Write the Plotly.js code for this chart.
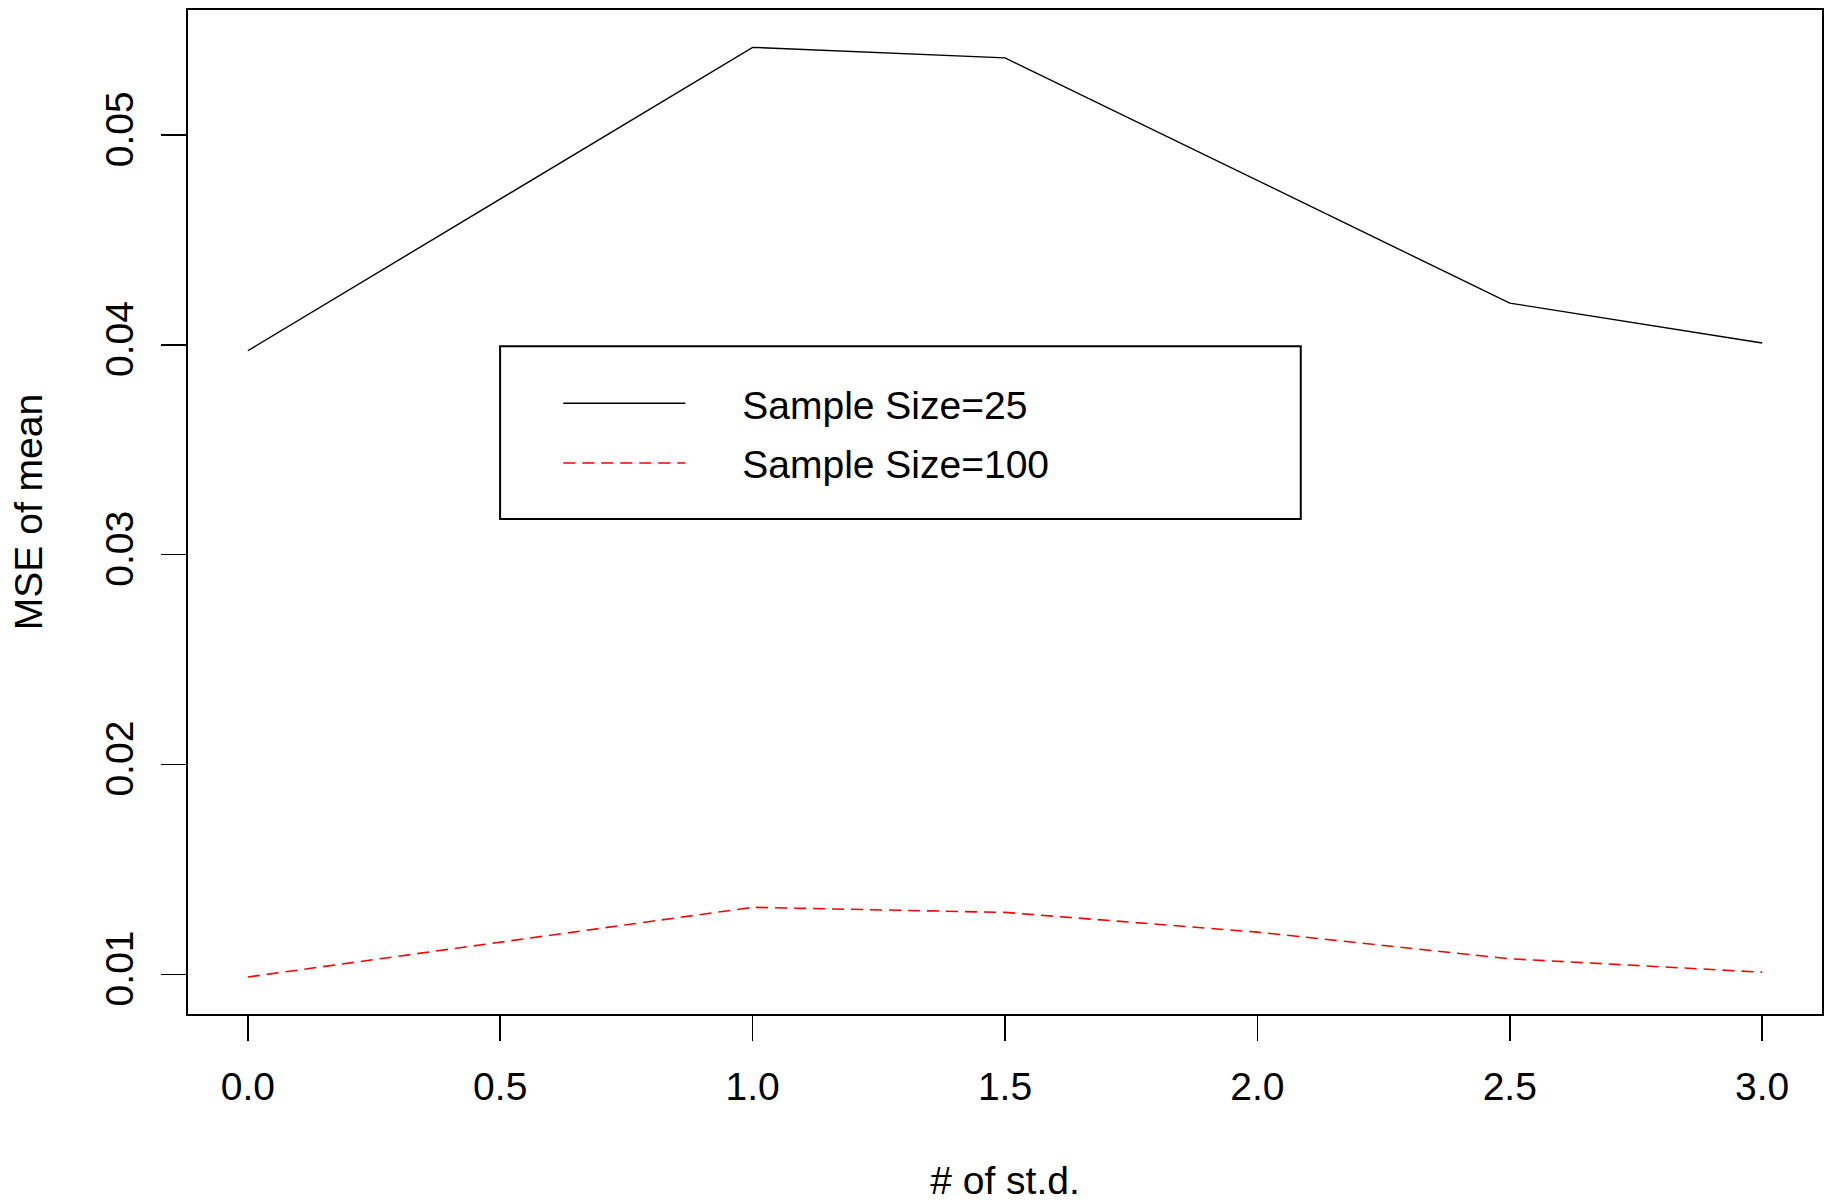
<!DOCTYPE html>
<html>
<head>
<meta charset="utf-8">
<script src="https://cdn.plot.ly/plotly-3.0.1.min.js"></script>
<style>
  html, body { margin: 0; padding: 0; background: #ffffff; }
  #chart { width: 1832px; height: 1202px; }
</style>
</head>
<body>
<div id="chart"></div>
<script>
// Data
const nSd = [0.0, 0.5, 1.0, 1.5, 2.0, 2.5, 3.0];
const mseSize25 = [0.03972, 0.04695, 0.05418, 0.05368, 0.04784, 0.04199, 0.04009];
const mseSize100 = [0.00987, 0.01154, 0.01319, 0.01295, 0.01201, 0.01074, 0.01010];
const seriesNames = ["Sample Size=25", "Sample Size=100"];
const xTickVals = [0.0, 0.5, 1.0, 1.5, 2.0, 2.5, 3.0];
const xTickText = ["0.0", "0.5", "1.0", "1.5", "2.0", "2.5", "3.0"];
const yTickVals = [0.01, 0.02, 0.03, 0.04, 0.05];
const yTickText = ["0.01", "0.02", "0.03", "0.04", "0.05"];

const FONT = '"Liberation Sans", Arial, Helvetica, sans-serif';
const FS = 39;
// gap between the legend line sample and its label (em + three-per-em space)
const LEGEND_GAP = '\u2003\u2004';

const traces = [
  {
    x: nSd, y: mseSize25, name: LEGEND_GAP + seriesNames[0], legendgroup: 'a',
    type: 'scatter', mode: 'lines',
    line: { color: '#000000', width: 1.4 }
  },
  {
    x: nSd, y: mseSize100, name: LEGEND_GAP + seriesNames[1], legendgroup: 'b',
    type: 'scatter', mode: 'lines',
    line: { color: '#ff0000', width: 1.6, dash: '12px,7px' }
  }
];

const layout = {
  width: 1832, height: 1202,
  paper_bgcolor: '#ffffff', plot_bgcolor: '#ffffff',
  margin: { l: 188, r: 10, t: 10, b: 188, pad: 0 },
  font: { family: FONT, size: FS, color: '#000000' },
  showlegend: true,
  legend: {
    x: 0.2266, y: 0.64, xanchor: 'left', yanchor: 'top',
    bgcolor: 'rgba(0,0,0,0)', borderwidth: 0,
    font: { family: FONT, size: FS, color: '#000000' },
    itemwidth: 122, tracegroupgap: 6
  },
  xaxis: {
    range: [-0.1185, 3.1185], autorange: false,
    tickmode: 'array', tickvals: xTickVals, ticktext: xTickText,
    ticks: 'outside', ticklen: 25, tickwidth: 1.5, tickcolor: '#000000',
    showline: true, linecolor: '#000000', linewidth: 2, mirror: true,
    showgrid: false, zeroline: false,
    ticklabelstandoff: 12,
    tickfont: { family: FONT, size: FS, color: '#000000' },
    title: { text: '# of st.d.', font: { family: FONT, size: FS, color: '#000000' }, standoff: 63 }
  },
  yaxis: {
    range: [0.008107, 0.05596], autorange: false,
    tickmode: 'array', tickvals: yTickVals, ticktext: yTickText,
    ticks: 'outside', ticklen: 25, tickwidth: 1.5, tickcolor: '#000000',
    showline: true, linecolor: '#000000', linewidth: 2, mirror: true,
    showgrid: false, zeroline: false,
    tickangle: -90,
    ticklabelstandoff: 12,
    tickfont: { family: FONT, size: FS, color: '#000000' },
    title: { text: 'MSE of mean', font: { family: FONT, size: FS, color: '#000000' }, standoff: 44 }
  },
  shapes: [
    {
      type: 'rect', xref: 'paper', yref: 'paper',
      x0: 0.191, x1: 0.681, y0: 0.493, y1: 0.665,
      line: { color: '#000000', width: 2 }, fillcolor: 'rgba(0,0,0,0)', layer: 'above'
    }
  ]
};

Plotly.newPlot('chart', traces, layout, { displayModeBar: false, staticPlot: true });
</script>
</body>
</html>
